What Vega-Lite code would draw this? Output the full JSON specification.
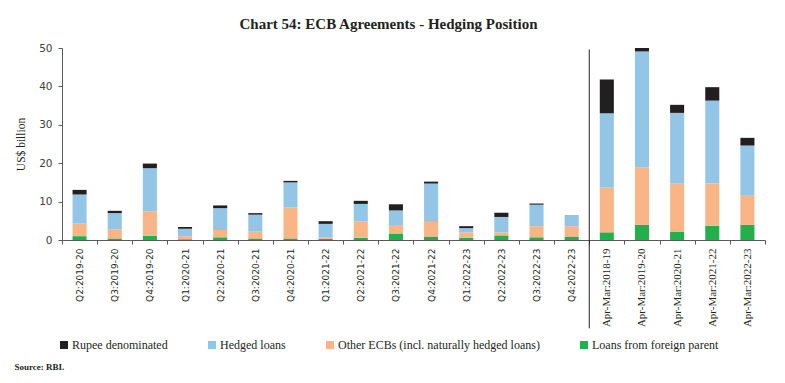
{
  "$schema": "https://vega.github.io/schema/vega-lite/v6.json",
  "width": 703,
  "height": 192,
  "autosize": {"type": "none"},
  "padding": {"left": 62, "top": 48, "right": 20, "bottom": 143},
  "background": "white",
  "title": {"text": "Chart 54: ECB Agreements - Hedging Position", "font": "Liberation Serif", "fontSize": 15, "fontWeight": "bold", "color": "#231f20", "anchor": "middle", "frame": "group", "dx": -25, "offset": 11},
  "datasets": {
    "bars": [
      {"period": "Q2:2019-20", "series": "Loans from foreign parent", "value": 1.0},
      {"period": "Q2:2019-20", "series": "Other ECBs (incl. naturally hedged loans)", "value": 3.35},
      {"period": "Q2:2019-20", "series": "Hedged loans", "value": 7.5},
      {"period": "Q2:2019-20", "series": "Rupee denominated", "value": 1.2},
      {"period": "Q3:2019-20", "series": "Loans from foreign parent", "value": 0.4},
      {"period": "Q3:2019-20", "series": "Other ECBs (incl. naturally hedged loans)", "value": 2.4},
      {"period": "Q3:2019-20", "series": "Hedged loans", "value": 4.2},
      {"period": "Q3:2019-20", "series": "Rupee denominated", "value": 0.6},
      {"period": "Q4:2019-20", "series": "Loans from foreign parent", "value": 1.1},
      {"period": "Q4:2019-20", "series": "Other ECBs (incl. naturally hedged loans)", "value": 6.4},
      {"period": "Q4:2019-20", "series": "Hedged loans", "value": 11.2},
      {"period": "Q4:2019-20", "series": "Rupee denominated", "value": 1.2},
      {"period": "Q1:2020-21", "series": "Loans from foreign parent", "value": 0.2},
      {"period": "Q1:2020-21", "series": "Other ECBs (incl. naturally hedged loans)", "value": 0.8},
      {"period": "Q1:2020-21", "series": "Hedged loans", "value": 1.9},
      {"period": "Q1:2020-21", "series": "Rupee denominated", "value": 0.5},
      {"period": "Q2:2020-21", "series": "Loans from foreign parent", "value": 0.7},
      {"period": "Q2:2020-21", "series": "Other ECBs (incl. naturally hedged loans)", "value": 1.9},
      {"period": "Q2:2020-21", "series": "Hedged loans", "value": 5.7},
      {"period": "Q2:2020-21", "series": "Rupee denominated", "value": 0.7},
      {"period": "Q3:2020-21", "series": "Loans from foreign parent", "value": 0.4},
      {"period": "Q3:2020-21", "series": "Other ECBs (incl. naturally hedged loans)", "value": 1.9},
      {"period": "Q3:2020-21", "series": "Hedged loans", "value": 4.3},
      {"period": "Q3:2020-21", "series": "Rupee denominated", "value": 0.4},
      {"period": "Q4:2020-21", "series": "Loans from foreign parent", "value": 0.4},
      {"period": "Q4:2020-21", "series": "Other ECBs (incl. naturally hedged loans)", "value": 8.1},
      {"period": "Q4:2020-21", "series": "Hedged loans", "value": 6.5},
      {"period": "Q4:2020-21", "series": "Rupee denominated", "value": 0.4},
      {"period": "Q1:2021-22", "series": "Loans from foreign parent", "value": 0.3},
      {"period": "Q1:2021-22", "series": "Other ECBs (incl. naturally hedged loans)", "value": 0.3},
      {"period": "Q1:2021-22", "series": "Hedged loans", "value": 3.6},
      {"period": "Q1:2021-22", "series": "Rupee denominated", "value": 0.7},
      {"period": "Q2:2021-22", "series": "Loans from foreign parent", "value": 0.6},
      {"period": "Q2:2021-22", "series": "Other ECBs (incl. naturally hedged loans)", "value": 4.3},
      {"period": "Q2:2021-22", "series": "Hedged loans", "value": 4.5},
      {"period": "Q2:2021-22", "series": "Rupee denominated", "value": 0.8},
      {"period": "Q3:2021-22", "series": "Loans from foreign parent", "value": 1.7},
      {"period": "Q3:2021-22", "series": "Other ECBs (incl. naturally hedged loans)", "value": 2.2},
      {"period": "Q3:2021-22", "series": "Hedged loans", "value": 3.8},
      {"period": "Q3:2021-22", "series": "Rupee denominated", "value": 1.6},
      {"period": "Q4:2021-22", "series": "Loans from foreign parent", "value": 0.9},
      {"period": "Q4:2021-22", "series": "Other ECBs (incl. naturally hedged loans)", "value": 3.8},
      {"period": "Q4:2021-22", "series": "Hedged loans", "value": 10.0},
      {"period": "Q4:2021-22", "series": "Rupee denominated", "value": 0.5},
      {"period": "Q1:2022-23", "series": "Loans from foreign parent", "value": 0.6},
      {"period": "Q1:2022-23", "series": "Other ECBs (incl. naturally hedged loans)", "value": 1.4},
      {"period": "Q1:2022-23", "series": "Hedged loans", "value": 1.1},
      {"period": "Q1:2022-23", "series": "Rupee denominated", "value": 0.5},
      {"period": "Q2:2022-23", "series": "Loans from foreign parent", "value": 1.2},
      {"period": "Q2:2022-23", "series": "Other ECBs (incl. naturally hedged loans)", "value": 0.8},
      {"period": "Q2:2022-23", "series": "Hedged loans", "value": 4.0},
      {"period": "Q2:2022-23", "series": "Rupee denominated", "value": 1.1},
      {"period": "Q3:2022-23", "series": "Loans from foreign parent", "value": 0.7},
      {"period": "Q3:2022-23", "series": "Other ECBs (incl. naturally hedged loans)", "value": 2.9},
      {"period": "Q3:2022-23", "series": "Hedged loans", "value": 5.6},
      {"period": "Q3:2022-23", "series": "Rupee denominated", "value": 0.3},
      {"period": "Q4:2022-23", "series": "Loans from foreign parent", "value": 0.9},
      {"period": "Q4:2022-23", "series": "Other ECBs (incl. naturally hedged loans)", "value": 2.7},
      {"period": "Q4:2022-23", "series": "Hedged loans", "value": 2.7},
      {"period": "Q4:2022-23", "series": "Rupee denominated", "value": 0.1},
      {"period": "Apr-Mar:2018-19", "series": "Loans from foreign parent", "value": 2.0},
      {"period": "Apr-Mar:2018-19", "series": "Other ECBs (incl. naturally hedged loans)", "value": 11.7},
      {"period": "Apr-Mar:2018-19", "series": "Hedged loans", "value": 19.3},
      {"period": "Apr-Mar:2018-19", "series": "Rupee denominated", "value": 8.8},
      {"period": "Apr-Mar:2019-20", "series": "Loans from foreign parent", "value": 4.0},
      {"period": "Apr-Mar:2019-20", "series": "Other ECBs (incl. naturally hedged loans)", "value": 14.9},
      {"period": "Apr-Mar:2019-20", "series": "Hedged loans", "value": 30.2},
      {"period": "Apr-Mar:2019-20", "series": "Rupee denominated", "value": 0.9},
      {"period": "Apr-Mar:2020-21", "series": "Loans from foreign parent", "value": 2.2},
      {"period": "Apr-Mar:2020-21", "series": "Other ECBs (incl. naturally hedged loans)", "value": 12.6},
      {"period": "Apr-Mar:2020-21", "series": "Hedged loans", "value": 18.3},
      {"period": "Apr-Mar:2020-21", "series": "Rupee denominated", "value": 2.1},
      {"period": "Apr-Mar:2021-22", "series": "Loans from foreign parent", "value": 3.7},
      {"period": "Apr-Mar:2021-22", "series": "Other ECBs (incl. naturally hedged loans)", "value": 11.0},
      {"period": "Apr-Mar:2021-22", "series": "Hedged loans", "value": 21.6},
      {"period": "Apr-Mar:2021-22", "series": "Rupee denominated", "value": 3.5},
      {"period": "Apr-Mar:2022-23", "series": "Loans from foreign parent", "value": 4.0},
      {"period": "Apr-Mar:2022-23", "series": "Other ECBs (incl. naturally hedged loans)", "value": 7.7},
      {"period": "Apr-Mar:2022-23", "series": "Hedged loans", "value": 12.9},
      {"period": "Apr-Mar:2022-23", "series": "Rupee denominated", "value": 2.0}
    ],
    "sep": [{"period": "Q4:2022-23", "top": 49.6, "bottom": -23}]
  },
  "layer": [
    {
      "data": {"name": "bars"},
      "transform": [
        {"calculate": "indexof(['Loans from foreign parent', 'Other ECBs (incl. naturally hedged loans)', 'Hedged loans', 'Rupee denominated'], datum.series)", "as": "stackRank"}
      ],
      "mark": {"type": "bar", "width": {"band": 0.4}},
      "encoding": {
        "x": {
          "field": "period", "type": "nominal", "sort": null,
          "scale": {"paddingInner": 0, "paddingOuter": 0},
          "axis": {
            "title": "Source: RBI.", "titleFont": "Liberation Serif", "titleFontSize": 9, "titleFontWeight": "bold", "titleColor": "#231f20",
            "titleX": -48, "titleY": 126, "titleAlign": "left", "titleBaseline": "middle",
            "labelAngle": 270, "labelPadding": 4, "labelColor": "#231f20", "labelOverlap": false, "labelLimit": 200,
            "labelFont": {"condition": {"test": "test(/^Apr/, '' + datum.value)", "value": "Liberation Serif"}, "value": "DejaVu Sans"},
            "labelFontSize": {"condition": {"test": "test(/^Apr/, '' + datum.value)", "value": 11}, "value": 9},
            "tickBand": "extent", "tickSize": 4, "tickColor": "#595959", "domainColor": "#595959", "grid": false
          }
        },
        "y": {
          "field": "value", "type": "quantitative", "stack": "zero",
          "scale": {"domain": [0, 50], "nice": false},
          "axis": {
            "title": "US$ billion", "titleFont": "Liberation Serif", "titleFontSize": 11.5, "titleFontWeight": "normal", "titleColor": "#231f20", "titlePadding": 12,
            "values": [0, 10, 20, 30, 40, 50], "tickCount": 6, "labelOverlap": false, "labelFont": "DejaVu Sans", "labelFontSize": 10.5, "labelColor": "#404040", "labelPadding": 6,
            "tickSize": 4, "tickColor": "#595959", "domainColor": "#595959", "grid": false
          }
        },
        "order": {"field": "stackRank", "type": "quantitative", "sort": "ascending"},
        "color": {
          "field": "series", "type": "nominal",
          "scale": {
            "domain": ["Rupee denominated", "Hedged loans", "Other ECBs (incl. naturally hedged loans)", "Loans from foreign parent"],
            "range": ["#231f20", "#93c5e6", "#f9b586", "#21b04b"]
          },
          "legend": {
            "orient": "none", "legendX": -4, "legendY": 291, "direction": "horizontal", "columns": 4, "columnPadding": 38,
            "title": null, "symbolType": "square", "symbolSize": 64, "symbolStrokeWidth": 0, "labelOffset": 2, "padding": 0,
            "labelFont": "Liberation Serif", "labelFontSize": 12, "labelColor": "#231f20", "labelLimit": 400,
            "values": ["Rupee denominated", "Hedged loans", "Other ECBs (incl. naturally hedged loans)", "Loans from foreign parent"]
          }
        }
      }
    },
    {
      "data": {"name": "sep"},
      "mark": {"type": "rule", "color": "#231f20", "strokeWidth": 1, "clip": false},
      "encoding": {
        "x": {"field": "period", "type": "nominal", "sort": null, "bandPosition": 1},
        "y": {"field": "top", "type": "quantitative", "axis": {"values": [0, 10, 20, 30, 40, 50], "tickCount": 6, "labelOverlap": false}},
        "y2": {"field": "bottom"}
      }
    }
  ],
  "config": {"view": {"stroke": null}}
}
